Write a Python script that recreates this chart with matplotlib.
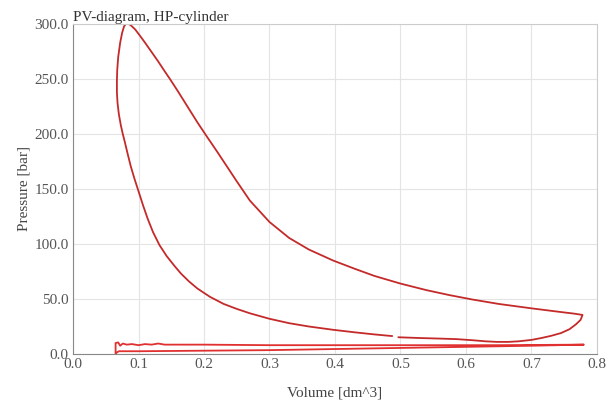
import numpy as np
import matplotlib.pyplot as plt

# main loop (volume dm^3, pressure bar)
loop_vol = [0.497, 0.53, 0.56, 0.586, 0.61, 0.63, 0.647, 0.665, 0.68, 0.70, 0.715,
            0.73, 0.745, 0.758, 0.768, 0.775, 0.778,
            0.765, 0.74, 0.70, 0.65, 0.61, 0.575, 0.54, 0.50, 0.46, 0.43, 0.397,
            0.36, 0.33, 0.30, 0.27, 0.25, 0.235, 0.22, 0.204, 0.19, 0.18, 0.17,
            0.16, 0.148, 0.14, 0.13, 0.12, 0.11, 0.102, 0.095, 0.088, 0.082,
            0.078, 0.075, 0.072, 0.069, 0.0675, 0.067, 0.067, 0.068, 0.070, 0.073,
            0.076, 0.079, 0.083, 0.088, 0.094, 0.10, 0.107, 0.114, 0.122, 0.132,
            0.143, 0.155, 0.165, 0.177, 0.19, 0.209, 0.23, 0.25, 0.27, 0.30, 0.33,
            0.36, 0.397, 0.43, 0.46, 0.487]
loop_p = [15.2, 14.5, 14.0, 13.5, 12.5, 11.5, 11.0, 11.0, 11.5, 12.8, 14.5,
          16.5, 19.0, 22.5, 27.0, 31.0, 35.5,
          36.7, 38.5, 41.5, 45.5, 49.5, 53.5, 58.0, 64.0, 71.0, 77.5, 85.0,
          95.0, 105.5, 120.0, 139.5, 157.0, 170.5, 184.0, 198.0, 210.5, 220.0, 229.5,
          239.0, 250.0, 257.0, 266.0, 274.5, 283.0, 289.5, 295.0, 299.0, 301.0,
          298.0, 292.0, 283.0, 270.0, 258.0, 248.0, 238.0, 228.0, 218.0, 208.0,
          200.0, 193.0, 183.0, 171.0, 159.0, 148.0, 135.0, 123.0, 111.0, 99.0,
          89.0, 80.0, 73.0, 66.0, 59.5, 52.0, 45.5, 41.0, 37.0, 32.0, 28.0,
          25.0, 22.0, 19.7, 17.8, 16.3]

# low pressure trace along the bottom
base_vol = [0.065, 0.065, 0.069, 0.072, 0.076, 0.082, 0.09, 0.10, 0.11, 0.12, 0.13,
            0.14, 0.20, 0.30, 0.50, 0.65, 0.78, 0.70, 0.60, 0.50, 0.40, 0.30, 0.20,
            0.10, 0.07, 0.066]
base_p = [0.0, 10.0, 10.5, 7.5, 9.5, 8.5, 9.0, 8.0, 9.0, 8.5, 9.5,
          8.5, 8.5, 8.0, 8.0, 8.0, 8.5, 7.5, 6.5, 5.5, 4.5, 3.5, 3.0,
          2.5, 2.5, 1.0]

plt.rcParams['font.family'] = ['Liberation Serif', 'DejaVu Serif']

fig = plt.figure(figsize=(6.11, 4.04), dpi=100)
ax = fig.add_axes([0.1195, 0.1238, 0.8575, 0.8168])

ax.plot(loop_vol, loop_p, color='#c42a2a', lw=1.3, solid_joinstyle='round')
ax.plot(base_vol, base_p, color='#e03030', lw=1.3, solid_joinstyle='round')

ax.set_xlim(0, 0.8)
ax.set_ylim(0, 300)
ax.set_xticks(np.arange(0, 0.81, 0.1))
ax.set_xticklabels([f'{v:.1f}' for v in np.arange(0, 0.81, 0.1)])
ax.set_yticks(np.arange(0, 301, 50))
ax.set_yticklabels([f'{v:.1f}' for v in np.arange(0, 301, 50)])
ax.tick_params(length=0, labelsize=11, colors='#555555', pad=3)
ax.grid(color='#e4e4e4', lw=0.8)
ax.set_axisbelow(True)
for s in ['top', 'right']:
    ax.spines[s].set_color('#cccccc')
for s in ['left', 'bottom']:
    ax.spines[s].set_color('#888888')

ax.set_title('PV-diagram, HP-cylinder', loc='left', fontsize=11, color='#333333', pad=1)
ax.set_xlabel('Volume [dm^3]', fontsize=11, color='#444444', labelpad=11)
ax.set_ylabel('Pressure [bar]', fontsize=11, color='#444444', labelpad=3)

plt.savefig('out.png')
